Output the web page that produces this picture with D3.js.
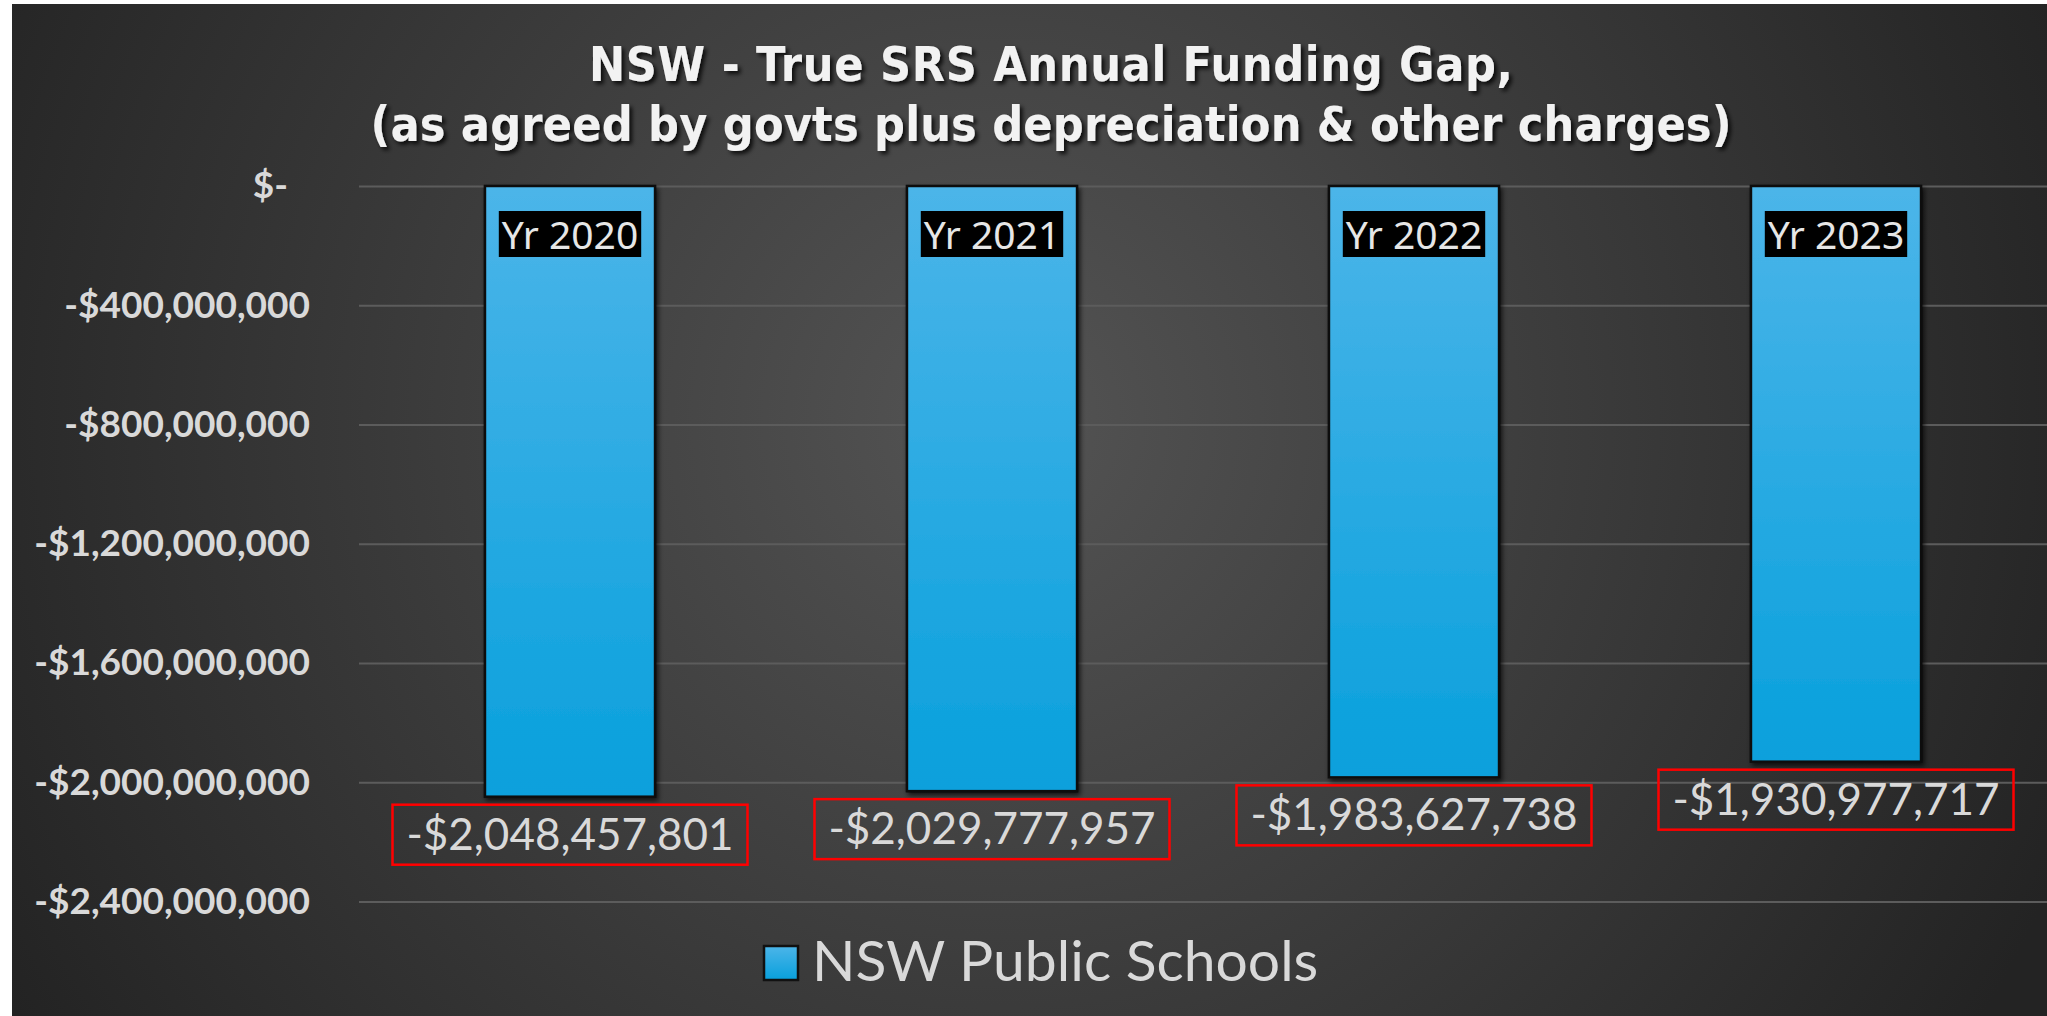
<!DOCTYPE html>
<html>
<head>
<meta charset="utf-8">
<script src="https://cdn.jsdelivr.net/npm/d3@7"></script>
<style>
  html, body { margin: 0; padding: 0; background: #fff; }
  svg { display: block; }
</style>
</head>
<body>
<svg id="chart"></svg>
<script>
// chart data
const years = ["Yr 2020", "Yr 2021", "Yr 2022", "Yr 2023"];
const gaps = [-2048457801, -2029777957, -1983627738, -1930977717];
const yTicks = [0, -400000000, -800000000, -1200000000, -1600000000, -2000000000, -2400000000];
const seriesName = "NSW Public Schools";
const titleLines = ["NSW - True SRS Annual Funding Gap,", "(as agreed by govts plus depreciation & other charges)"];

const W = 2047, H = 1016;
const svg = d3.select("#chart").attr("width", W).attr("height", H);
const defs = svg.append("defs");

// background gradient (lighter in the middle)
const bg = defs.append("radialGradient").attr("id", "bg")
  .attr("gradientUnits", "userSpaceOnUse")
  .attr("cx", 1000).attr("cy", 420).attr("r", 1150);
bg.append("stop").attr("offset", "0%").attr("stop-color", "#545454");
bg.append("stop").attr("offset", "100%").attr("stop-color", "#232323");

// bar fill
const barGrad = defs.append("linearGradient").attr("id", "barFill")
  .attr("x1", 0).attr("y1", 0).attr("x2", 0).attr("y2", 1);
barGrad.append("stop").attr("offset", "0%").attr("stop-color", "#4cb5e9");
barGrad.append("stop").attr("offset", "100%").attr("stop-color", "#08a0dc");

const shadow = defs.append("filter").attr("id", "shadow")
  .attr("x", "-10%").attr("y", "-10%").attr("width", "130%").attr("height", "130%");
shadow.append("feDropShadow").attr("dx", 2).attr("dy", 3).attr("stdDeviation", 2.5)
  .attr("flood-color", "#000").attr("flood-opacity", 0.7);

svg.append("rect").attr("x", 12).attr("y", 4).attr("width", W - 12).attr("height", H - 4)
  .attr("fill", "url(#bg)");

// scales
const x = d3.scaleBand()
  .domain(years)
  .range([359, 2047])
  .paddingInner(0.597)
  .paddingOuter(0.2985);

const y = d3.scaleLinear()
  .domain([-2400000000, 0])
  .range([901.5, 186]);

// gridlines
svg.append("g")
  .attr("transform", "translate(359,0)")
  .call(d3.axisLeft(y).tickValues(yTicks).tickSize(-(2047 - 359)).tickFormat(""))
  .call(g => g.select(".domain").remove())
  .call(g => g.selectAll("line").attr("stroke", "#5c5c5c").attr("stroke-width", 2));

// y axis labels
const yAxis = svg.append("g")
  .attr("transform", "translate(310,0)")
  .call(d3.axisLeft(y).tickValues(yTicks).tickSize(0).tickPadding(0)
    .tickFormat(d => d === 0 ? "$-" : "-$" + d3.format(",")(Math.abs(d))));
yAxis.select(".domain").remove();
yAxis.selectAll("text")
  .attr("fill", "#d9d9d9")
  .style("font-family", "Lato, 'Noto Sans', sans-serif")
  .style("font-weight", "bold")
  .style("font-size", "37px")
  .attr("dx", d => d === 0 ? -22 : 0);

// bars
svg.append("g").selectAll("rect")
  .data(gaps)
  .join("rect")
  .attr("x", (d, i) => x(years[i]))
  .attr("y", d => y(0))
  .attr("width", x.bandwidth())
  .attr("height", d => y(d) - y(0))
  .attr("fill", "url(#barFill)")
  .attr("stroke", "#111")
  .attr("stroke-width", 2.5)
  .attr("filter", "url(#shadow)");

// year labels on black boxes
const yr = svg.append("g").selectAll("g")
  .data(years)
  .join("g")
  .attr("transform", d => "translate(" + (x(d) + x.bandwidth() / 2) + "," + (y(0) + 25) + ")");
yr.append("rect").attr("fill", "#000");
yr.append("text")
  .attr("text-anchor", "middle")
  .attr("y", 38)
  .attr("fill", "#e6e6e6")
  .style("font-family", "'Noto Sans', sans-serif")
  .style("font-size", "39px")
  .text(d => d);
yr.each(function () {
  const g = d3.select(this);
  const bb = g.select("text").node().getBBox();
  g.select("rect").attr("x", bb.x - 3).attr("y", 0).attr("width", bb.width + 6).attr("height", 46);
});

// value labels with red boxes
const vl = svg.append("g").selectAll("g")
  .data(gaps)
  .join("g")
  .attr("transform", (d, i) => "translate(" + (x(years[i]) + x.bandwidth() / 2) + "," + (y(d) + 8) + ")");
vl.append("rect")
  .attr("x", -177.5).attr("y", 0).attr("width", 355).attr("height", 60)
  .attr("fill", "none").attr("stroke", "#ff0000").attr("stroke-width", 2.5);
vl.append("text")
  .attr("text-anchor", "middle")
  .attr("y", 45)
  .attr("fill", "#d9d9d9")
  .style("font-family", "Lato, 'Noto Sans', sans-serif")
  .style("font-size", "44px")
  .text(d => "-$" + d3.format(",")(Math.abs(d)));

// legend
const lg = svg.append("g");
lg.append("rect").attr("x", 764).attr("y", 946).attr("width", 34).attr("height", 34)
  .attr("fill", "url(#barFill)").attr("stroke", "#111").attr("stroke-width", 2.5);
lg.append("text").attr("x", 812).attr("y", 981)
  .attr("fill", "#d9d9d9")
  .style("font-family", "Lato, 'Noto Sans', sans-serif")
  .style("font-size", "57px")
  .text(seriesName);

// title
const titleShadow = defs.append("filter").attr("id", "tshadow")
  .attr("x", "-5%").attr("y", "-20%").attr("width", "110%").attr("height", "150%");
titleShadow.append("feDropShadow").attr("dx", 3).attr("dy", 3).attr("stdDeviation", 2)
  .attr("flood-color", "#000").attr("flood-opacity", 0.8);

const titleWidths = [924, 1361];
svg.append("g").selectAll("text")
  .data(titleLines)
  .join("text")
  .attr("x", 1051)
  .attr("y", (d, i) => 81 + i * 60)
  .attr("text-anchor", "middle")
  .attr("fill", "#f2f2f2")
  .attr("textLength", (d, i) => titleWidths[i])
  .attr("lengthAdjust", "spacing")
  .attr("filter", "url(#tshadow)")
  .style("font-family", "'Liberation Sans Narrow', 'DejaVu Sans Condensed', sans-serif")
  .style("font-weight", "bold")
  .style("font-size", "48px")
  .text(d => d);
</script>
</body>
</html>
